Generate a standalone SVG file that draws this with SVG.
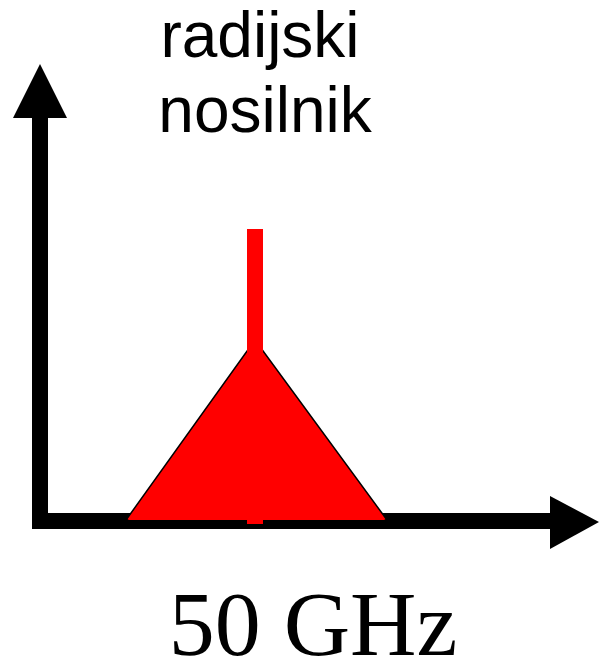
<svg xmlns="http://www.w3.org/2000/svg" width="599" height="664" viewBox="0 0 599 664">
<style>
.lbl{font-family:"Liberation Sans",Arial,sans-serif;font-size:64px;fill:#000;text-anchor:middle}
.freq{font-family:"Liberation Serif","Times New Roman",serif;font-size:92px;fill:#000;text-anchor:middle}
.axis{fill:#000}
.sig{fill:#ff0000}
</style>
<rect width="599" height="664" fill="#fff"/>
<g id="axes">
<rect class="axis" x="32" y="112" width="16" height="417"/>
<polygon class="axis" points="40,64 13,118 67,118"/>
<rect class="axis" x="32" y="513" width="524" height="16"/>
<polygon class="axis" points="599,522 550,496 550,549"/>
</g>
<g id="signal">
<polygon class="sig" points="255,340 387,520 126,520" stroke="#000" stroke-width="1.5" stroke-linejoin="round"/>
<polygon class="sig" points="255,342 385,520 128,520"/>
<rect class="sig" x="247" y="229" width="16" height="295"/>
</g>
<g id="carrier-label">
<text class="lbl" x="260" y="57">radijski</text>
<text class="lbl" x="265" y="132">nosilnik</text>
</g>
<g id="freq-label">
<text class="freq" x="313" y="655">50 GHz</text>
</g>
</svg>
